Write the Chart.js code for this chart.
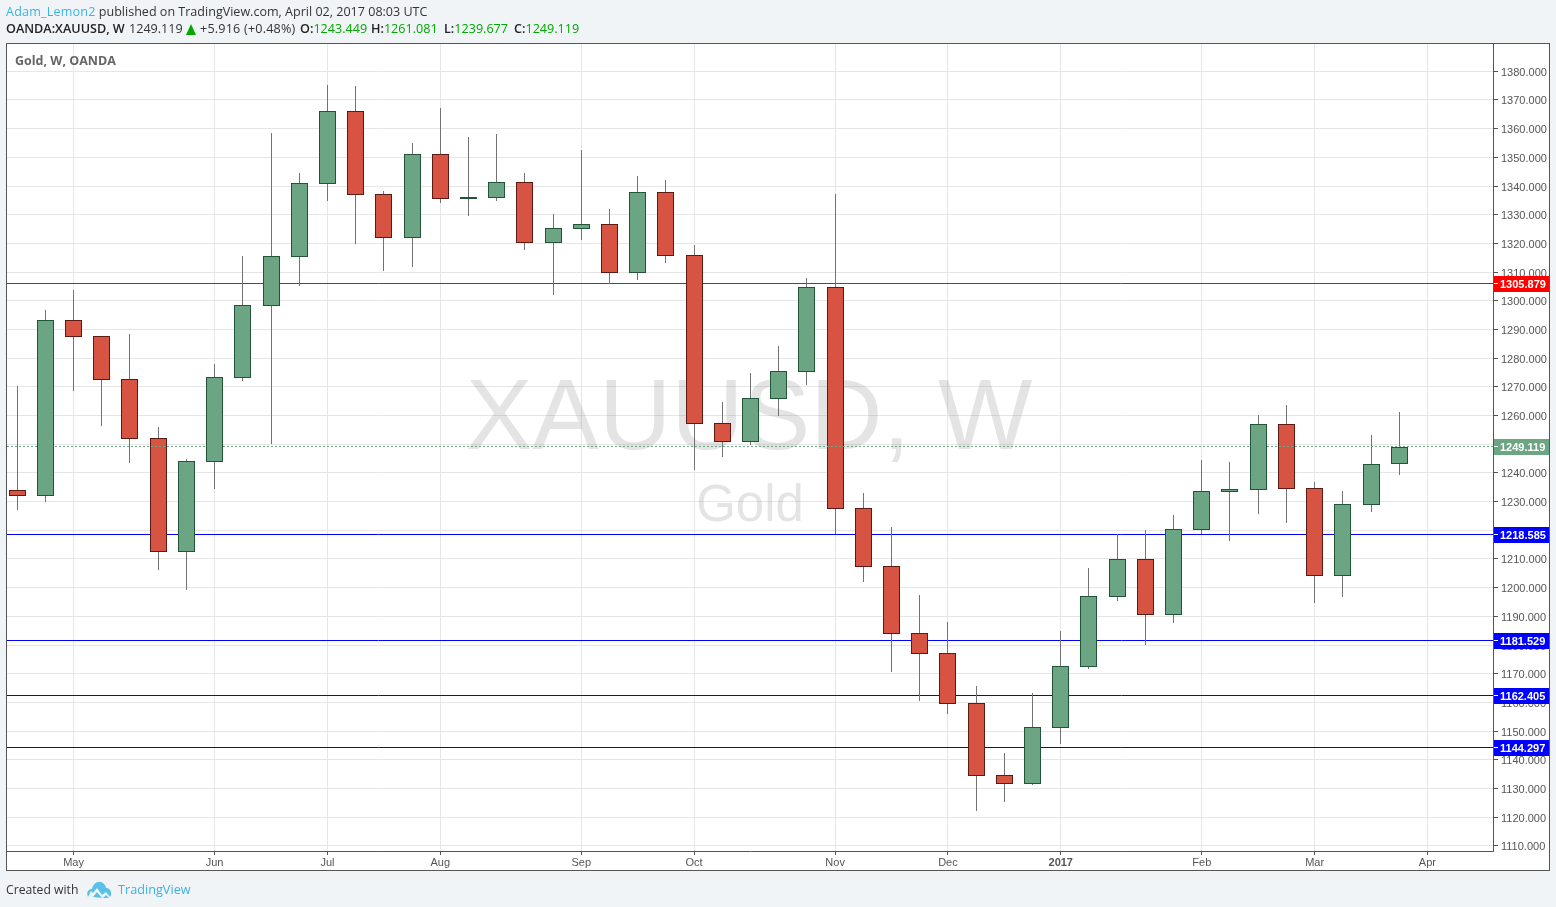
<!DOCTYPE html>
<html>
<head>
<meta charset="utf-8">
<title>XAUUSD, W</title>
<script src="https://cdn.jsdelivr.net/npm/chart.js@4"></script>
<style>
  html, body { margin: 0; padding: 0; width: 1556px; height: 907px; overflow: hidden; background: #f1f4f7; }
  body { font-family: "Open Sans", sans-serif; color: #333; position: relative; }
  #box { position: absolute; left: 6px; top: 43px; width: 1544px; height: 828px; box-sizing: border-box; border: 1px solid #555; background: #fff; }
  canvas { position: absolute; left: 0; top: 0; }
  .row { position: absolute; white-space: nowrap; font-size: 12.6px; line-height: 16px; }
  .row b { font-weight: 600; color: #222; }
  .link { color: #3bb3e4; }
  .val { color: #00a800; }
  #tri { position: absolute; left: 186px; top: 24px; width: 0; height: 0; border-left: 5.5px solid transparent; border-right: 5.5px solid transparent; border-bottom: 11px solid #00a800; }
  #name { position: absolute; left: 15px; top: 53px; font-size: 12.5px; line-height: 16px; font-weight: 700; color: #666; }
  #logo { position: absolute; left: 87px; top: 880px; }
</style>
</head>
<body>
<div id="box"></div>
<canvas id="grafico" width="1556" height="907"></canvas>
<div class="row" style="left:6px;top:4px;font-size:12.55px"><span class="link" style="letter-spacing:.2px">Adam_Lemon2</span> published on TradingView.com, April 02, 2017 08:03 UTC</div>
<div class="row" style="left:6px;top:21px"><b>OANDA:XAUUSD, W</b></div>
<div class="row" style="left:129px;top:21px">1249.119</div>
<div id="tri"></div>
<div class="row" style="left:200px;top:21px;letter-spacing:.2px">+5.916 (+0.48%)</div>
<div class="row" style="left:300px;top:21px"><b>O:</b><span class="val">1243.449</span></div>
<div class="row" style="left:371px;top:21px"><b>H:</b><span class="val">1261.081</span></div>
<div class="row" style="left:444px;top:21px"><b>L:</b><span class="val">1239.677</span></div>
<div class="row" style="left:514px;top:21px"><b>C:</b><span class="val">1249.119</span></div>
<div id="name">Gold, W, OANDA</div>
<div class="row" style="left:6px;top:882px;font-size:12.2px">Created with</div>
<svg id="logo" width="25" height="18" viewBox="0 0 25 18"><path fill="#5bc0e8" d="M1 17 C-1 13 1 9 5 9 C6 4 10 1 14 2 C17 3 19 6 19 8 C23 8 25 12 24 15 L23 17 L19 12 L15 15 L10 8 L6 13 L4 11 Z"/><path fill="#5bc0e8" d="M6 17 L10 12 L15 18 Z M16 18 L19 15 L22 18 Z"/></svg>
<div class="row link" style="left:118px;top:881px;font-size:12.7px">TradingView</div>

<script>
// Dados semanais (segunda-feira de cada vela)
const weeks = ["2016-04-18","2016-04-25","2016-05-02","2016-05-09","2016-05-16","2016-05-23","2016-05-30","2016-06-06","2016-06-13","2016-06-20",
  "2016-06-27","2016-07-04","2016-07-11","2016-07-18","2016-07-25","2016-08-01","2016-08-08","2016-08-15","2016-08-22","2016-08-29",
  "2016-09-05","2016-09-12","2016-09-19","2016-09-26","2016-10-03","2016-10-10","2016-10-17","2016-10-24","2016-10-31","2016-11-07",
  "2016-11-14","2016-11-21","2016-11-28","2016-12-05","2016-12-12","2016-12-19","2016-12-26","2017-01-02","2017-01-09","2017-01-16",
  "2017-01-23","2017-01-30","2017-02-06","2017-02-13","2017-02-20","2017-02-27","2017-03-06","2017-03-13","2017-03-20","2017-03-27"];
const opens = [1233.9,1232.1,1293.2,1287.6,1272.6,1252.0,1212.6,1244.0,1273.3,1298.4,
  1315.5,1341.0,1366.1,1337.1,1322.1,1351.1,1335.8,1336.1,1341.3,1320.4,
  1325.3,1326.6,1309.9,1337.8,1315.8,1257.2,1251.2,1266.0,1275.4,1304.7,
  1227.6,1207.4,1184.0,1177.0,1159.6,1134.5,1132.0,1151.2,1172.5,1196.9,
  1210.1,1190.6,1220.3,1233.5,1234.2,1256.9,1234.6,1204.2,1229.0,1243.449];
const highs = [1270.2,1296.8,1303.7,1287.6,1288.4,1255.9,1244.8,1277.9,1315.6,1358.5,
  1344.5,1375.3,1374.9,1338.3,1355.0,1367.2,1357.1,1358.1,1344.5,1330.2,
  1352.6,1332.0,1343.5,1342.1,1319.4,1264.7,1274.8,1284.2,1307.9,1337.2,
  1232.9,1221.0,1197.3,1188.0,1165.6,1142.2,1163.2,1184.8,1206.8,1218.6,
  1220.0,1225.3,1244.4,1243.7,1260.2,1263.6,1236.8,1233.6,1253.2,1261.081];
const lows = [1227.5,1230.2,1269.0,1256.7,1243.8,1206.5,1199.5,1234.8,1272.4,1250.5,
  1305.6,1335.2,1320.2,1310.8,1311.9,1334.5,1330.0,1335.2,1318.1,1302.4,
  1321.6,1306.0,1307.7,1313.3,1241.4,1245.9,1250.1,1260.2,1271.0,1219.1,
  1202.3,1171.0,1160.8,1156.3,1122.5,1125.6,1131.5,1145.8,1172.0,1195.7,
  1180.4,1188.0,1219.1,1216.6,1226.1,1222.9,1195.0,1197.1,1226.7,1239.677];
const closes = [1232.1,1293.2,1287.6,1272.6,1252.0,1212.6,1244.0,1273.3,1298.4,1315.5,
  1341.0,1366.1,1337.1,1322.1,1351.1,1335.7,1336.1,1341.3,1320.4,1325.3,
  1326.6,1309.9,1337.8,1315.8,1257.2,1251.2,1266.0,1275.4,1304.7,1227.6,
  1207.4,1184.0,1177.0,1159.6,1134.5,1132.0,1151.2,1172.5,1196.9,1210.1,
  1190.6,1220.3,1233.5,1234.2,1256.9,1234.6,1204.2,1229.0,1242.9,1249.119];

// Niveis horizontais e ultimo preco
const levels = [1305.879, 1218.585, 1181.529, 1162.405, 1144.297];
const levelColors = ["#ff0000", "#0000ff", "#0000ff", "#0000ff", "#0000ff"];
const lastPrice = 1249.119;

// Marcas dos eixos
const xTickIndex = [2, 7, 11, 15, 20, 24, 29, 33, 37, 42, 46, 50];
const xTickLabels = ["May","Jun","Jul","Aug","Sep","Oct","Nov","Dec","2017","Feb","Mar","Apr"];
const yTicks = [1110,1120,1130,1140,1150,1160,1170,1180,1190,1200,1210,1220,1230,1240,1250,1260,1270,1280,1290,1300,1310,1320,1330,1340,1350,1360,1370,1380];

// Limites visiveis
const xMin = -0.36, xMax = 52.325;
const yMin = 1108.2, yMax = 1389.5;

// Cores
const UP = "#6ba583", DOWN = "#d75442", UP_BORDER = "#225437", DOWN_BORDER = "#5b1a13", WICK = "#737375";

function isUp(i){ return closes[i] >= opens[i]; }

const wickData = weeks.map((w, i) => ({ x: i, y: [lows[i], highs[i]] }));
const bodyData = weeks.map((w, i) => ({ x: i, y: [opens[i], closes[i]] }));

const levelSets = levels.map((v, i) => ({
  type: "line", label: "level " + v, order: 3,
  data: [{ x: xMin, y: v }, { x: xMax, y: v }],
  borderColor: levelColors[i], borderWidth: 1, pointRadius: 0
}));

// Deixa as velas e linhas alinhadas ao pixel
const snapPlugin = {
  id: "snap",
  afterDatasetUpdate(chart, args){
    const meta = args.meta;
    meta.data.forEach(el => {
      if (meta.type === "bar") {
        const top = Math.min(el.y, el.base), bottom = Math.max(el.y, el.base);
        el.x = Math.floor(el.x) + 0.5;
        el.y = Math.floor(top + 0.35);
        el.base = Math.floor(bottom + 0.35) + 1;
      } else {
        el.y = Math.floor(el.y) + 0.5;
      }
    });
  },
  // Desce um pouco os textos dos eixos
  beforeDraw(chart){
    chart.scales.y.getLabelItems().forEach(it => { it.options.translation[1] += 1.5; });
    chart.scales.x.getLabelItems().forEach(it => { it.options.translation[1] += 0.5; });
  }
};

// Marca d'agua
const watermark = {
  id: "watermark",
  beforeDatasetsDraw(chart){
    const ctx = chart.ctx;
    ctx.save();
    ctx.fillStyle = "rgba(120,120,120,0.2)";
    ctx.textAlign = "center";
    ctx.textBaseline = "alphabetic";
    ctx.font = '100px "Liberation Sans"';
    ctx.fillText("XAUUSD, W", 749, 449);
    ctx.font = '51px "Liberation Sans"';
    ctx.fillText("Gold", 750, 521);
    ctx.restore();
  }
};

// Etiquetas de preco na direita
function priceTag(chart, value, color){
  const ctx = chart.ctx;
  const y = Math.floor(chart.scales.y.getPixelForValue(value));
  ctx.fillStyle = color;
  ctx.fillRect(1494, y - 7, 55, 16);
  ctx.fillStyle = "#fff";
  ctx.fillRect(1494, y, 4, 1);
  ctx.font = 'bold 11px "Liberation Sans"';
  ctx.textAlign = "left";
  ctx.textBaseline = "middle";
  ctx.fillText(value.toFixed(3), 1500, y + 2);
}

const tags = {
  id: "tags",
  afterDraw(chart){
    chart.ctx.save();
    levels.forEach((v, i) => priceTag(chart, v, levelColors[i]));
    priceTag(chart, lastPrice, UP);
    chart.ctx.restore();
  }
};

const MyChart = new Chart("grafico", {
  type: "bar",
  data: {
    labels: weeks,
    datasets: [
      ...levelSets,
      {
        type: "bar", label: "wick", order: 2, data: wickData, grouped: false,
        barThickness: 1, backgroundColor: WICK, borderWidth: 0, inflateAmount: 0
      },
      {
        type: "bar", label: "XAUUSD", order: 1, data: bodyData, grouped: false,
        barThickness: 17, borderWidth: 1, borderSkipped: false, inflateAmount: 0,
        backgroundColor: weeks.map((w, i) => isUp(i) ? UP : DOWN),
        borderColor: weeks.map((w, i) => isUp(i) ? UP_BORDER : DOWN_BORDER)
      },
      {
        type: "line", label: "last", order: 0,
        data: [{ x: xMin, y: lastPrice }, { x: xMax, y: lastPrice }],
        borderColor: UP, borderWidth: 1, borderDash: [2, 2], pointRadius: 0
      }
    ]
  },
  options: {
    responsive: false,
    animation: false,
    events: [],
    layout: { padding: { left: 7, top: 44, right: 7, bottom: 37 } },
    plugins: { legend: { display: false }, title: { display: false }, tooltip: { enabled: false } },
    scales: {
      x: {
        type: "linear", min: xMin, max: xMax, offset: false,
        afterBuildTicks(scale){ scale.ticks = xTickIndex.map(v => ({ value: v })); },
        afterFit(scale){ scale.height = 19; },
        grid: { offset: false, color: "#e6e6e6", tickColor: "#555", tickLength: 4 },
        border: { color: "#555" },
        ticks: {
          autoSkip: false, maxRotation: 0, padding: 1, color: "#555",
          font: ctx => ({ family: '"Liberation Sans"', size: 11, weight: xTickLabels[ctx.index] === "2017" ? "bold" : "normal" }),
          callback: v => xTickLabels[xTickIndex.indexOf(v)]
        }
      },
      y: {
        position: "right", min: yMin, max: yMax,
        afterBuildTicks(scale){ scale.ticks = yTicks.map(v => ({ value: v })); },
        afterFit(scale){ scale.width = 56; },
        grid: { color: "#e6e6e6", tickColor: "#555", tickLength: 5 },
        border: { color: "#555" },
        ticks: {
          autoSkip: false, padding: 3, color: "#555",
          font: { family: '"Liberation Sans"', size: 11 },
          callback: v => v.toFixed(3)
        }
      }
    }
  },
  plugins: [snapPlugin, watermark, tags]
});
</script>
</body>
</html>
